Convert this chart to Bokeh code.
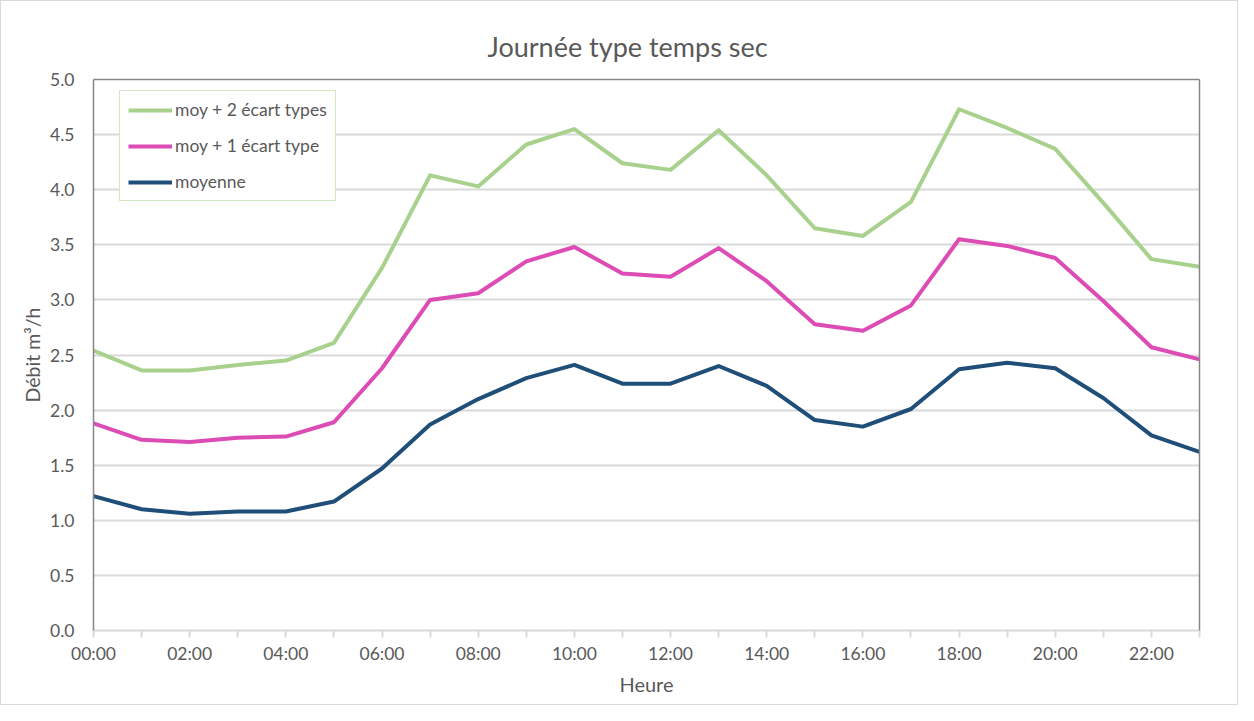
from bokeh.plotting import figure
from bokeh.models import (ColumnDataSource, FixedTicker, NumeralTickFormatter, Legend,
                          LegendItem, LinearAxis, Range1d, Title)
from bokeh.embed import file_html
from bokeh.resources import INLINE

hours = list(range(24))
hour_labels = [f"{h:02d}:00" for h in hours]
moy_2sd = [2.54, 2.36, 2.36, 2.41, 2.45, 2.61, 3.29, 4.13, 4.03, 4.41, 4.55, 4.24,
           4.18, 4.54, 4.13, 3.65, 3.58, 3.89, 4.73, 4.56, 4.37, 3.88, 3.37, 3.30]
moy_1sd = [1.88, 1.73, 1.71, 1.75, 1.76, 1.89, 2.38, 3.00, 3.06, 3.35, 3.48, 3.24,
           3.21, 3.47, 3.17, 2.78, 2.72, 2.95, 3.55, 3.49, 3.38, 2.99, 2.57, 2.46]
moyenne = [1.22, 1.10, 1.06, 1.08, 1.08, 1.17, 1.47, 1.87, 2.10, 2.29, 2.41, 2.24,
           2.24, 2.40, 2.22, 1.91, 1.85, 2.01, 2.37, 2.43, 2.38, 2.11, 1.77, 1.62]
series_names = ["moy + 2 écart types", "moy + 1 écart type", "moyenne"]
series_colors = ["#a9d18e", "#dc4cb4", "#1f4e79"]
y_ticks = [0.0, 0.5, 1.0, 1.5, 2.0, 2.5, 3.0, 3.5, 4.0, 4.5, 5.0]

FONT = "Lato"
TXT = "#595959"
GRID = "#d9d9d9"

src = ColumnDataSource(dict(h=hours, s2=moy_2sd, s1=moy_1sd, m=moyenne))

p = figure(width=1238, height=705, output_backend="svg", toolbar_location=None,
           x_range=Range1d(0, 23), y_range=Range1d(0, 5),
           min_border_left=92, min_border_right=40, min_border_top=78, min_border_bottom=76)
p.styles = {"border": "1px solid #d9d9d9"}
p.outline_line_color = None
p.background_fill_color = "white"

p.title = Title(text="Journée type temps sec", align="left", text_font=FONT,
                text_font_size="27px", text_color=TXT, text_font_style="normal",
                standoff=33, offset=394)

renderers = []
for col, color in zip(["s2", "s1", "m"], series_colors):
    r = p.line("h", col, source=src, line_color=color, line_width=4, line_join="round")
    renderers.append(r)

# x axis
xa = p.xaxis[0]
xa.ticker = FixedTicker(ticks=hours)
xa.major_label_overrides = {h: (lbl if h % 2 == 0 else "") for h, lbl in zip(hours, hour_labels)}
xa.axis_label = "Heure"
xa.axis_label_text_font = FONT
xa.axis_label_text_font_size = "20px"
xa.axis_label_text_font_style = "normal"
xa.axis_label_text_color = TXT
xa.axis_label_standoff = 5
xa.major_label_text_font = FONT
xa.major_label_text_font_size = "17.5px"
xa.major_label_text_color = TXT
xa.major_label_standoff = 5
xa.axis_line_color = GRID
xa.axis_line_width = 2
xa.major_tick_line_color = GRID
xa.major_tick_line_width = 2
xa.major_tick_in = 0
xa.major_tick_out = 7
xa.minor_tick_line_color = None

# y axis
ya = p.yaxis[0]
ya.ticker = FixedTicker(ticks=y_ticks)
ya.formatter = NumeralTickFormatter(format="0.0")
ya.axis_label = "Débit m³/h"
ya.axis_label_text_font = FONT
ya.axis_label_text_font_size = "19.5px"
ya.axis_label_text_font_style = "normal"
ya.axis_label_text_color = TXT
ya.axis_label_standoff = 3
ya.major_label_text_font = FONT
ya.major_label_text_font_size = "17.5px"
ya.major_label_text_color = TXT
ya.major_label_standoff = 13
ya.axis_line_color = "#868686"
ya.axis_line_width = 1.5
ya.major_tick_line_color = None
ya.minor_tick_line_color = None

# top & right frame lines
for side in ["above", "right"]:
    ax = LinearAxis(major_tick_line_color=None, minor_tick_line_color=None,
                    major_label_text_font_size="0px", axis_line_color="#868686",
                    axis_line_width=1.5, major_label_standoff=0)
    ax.ticker = FixedTicker(ticks=[])
    p.add_layout(ax, side)

p.xgrid.grid_line_color = None
p.ygrid.grid_line_color = GRID
p.ygrid.grid_line_width = 2
p.ygrid.ticker = FixedTicker(ticks=y_ticks)

legend = Legend(items=[LegendItem(label=n, renderers=[r]) for n, r in zip(series_names, renderers)],
                location=(26, 429), label_text_font=FONT, label_text_font_size="17.5px",
                label_text_color=TXT, border_line_color="#a9d18e", border_line_width=1.5,
                background_fill_color="white", background_fill_alpha=1,
                glyph_width=44, glyph_height=20, label_height=20, spacing=15,
                padding=8, margin=0, label_standoff=3)
p.add_layout(legend, "center")

open("out.html", "w").write(file_html(p, INLINE))
